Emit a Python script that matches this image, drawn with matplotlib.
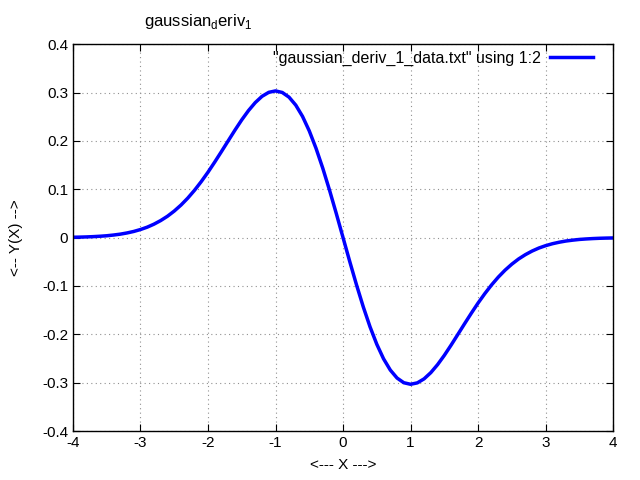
import matplotlib
matplotlib.use("Agg")
import matplotlib.pyplot as plt

plt.rcParams["font.family"] = ["Liberation Sans", "DejaVu Sans"]
plt.rcParams["mathtext.fontset"] = "custom"
plt.rcParams["mathtext.rm"] = "Liberation Sans"

# 그림에서 읽은 값 (0.1 간격)
x_vals = [-4.0, -3.9, -3.8, -3.7, -3.6, -3.5, -3.4, -3.3, -3.2, -3.1,
          -3.0, -2.9, -2.8, -2.7, -2.6, -2.5, -2.4, -2.3, -2.2, -2.1,
          -2.0, -1.9, -1.8, -1.7, -1.6, -1.5, -1.4, -1.3, -1.2, -1.1,
          -1.0, -0.9, -0.8, -0.7, -0.6, -0.5, -0.4, -0.3, -0.2, -0.1,
          0.0, 0.1, 0.2, 0.3, 0.4, 0.5, 0.6, 0.7, 0.8, 0.9,
          1.0, 1.1, 1.2, 1.3, 1.4, 1.5, 1.6, 1.7, 1.8, 1.9,
          2.0, 2.1, 2.2, 2.3, 2.4, 2.5, 2.6, 2.7, 2.8, 2.9,
          3.0, 3.1, 3.2, 3.3, 3.4, 3.5, 3.6, 3.7, 3.8, 3.9, 4.0]
y_vals = [0.0007, 0.0010, 0.0014, 0.0020, 0.0028, 0.0038, 0.0053, 0.0071, 0.0096, 0.0127,
          0.0167, 0.0216, 0.0278, 0.0353, 0.0442, 0.0549, 0.0673, 0.0816, 0.0978, 0.1158,
          0.1353, 0.1563, 0.1781, 0.2003, 0.2224, 0.2435, 0.2627, 0.2792, 0.2921, 0.3004,
          0.3033, 0.3001, 0.2904, 0.2739, 0.2506, 0.2206, 0.1846, 0.1434, 0.0980, 0.0498,
          0.0, -0.0498, -0.0980, -0.1434, -0.1846, -0.2206, -0.2506, -0.2739, -0.2904, -0.3001,
          -0.3033, -0.3004, -0.2921, -0.2792, -0.2627, -0.2435, -0.2224, -0.2003, -0.1781, -0.1563,
          -0.1353, -0.1158, -0.0978, -0.0816, -0.0673, -0.0549, -0.0442, -0.0353, -0.0278, -0.0216,
          -0.0167, -0.0127, -0.0096, -0.0071, -0.0053, -0.0038, -0.0028, -0.0020, -0.0014, -0.0010,
          -0.0007]
x_ticks = [-4, -3, -2, -1, 0, 1, 2, 3, 4]
y_ticks = [-0.4, -0.3, -0.2, -0.1, 0, 0.1, 0.2, 0.3, 0.4]
y_labels = ["-0.4", "-0.3", "-0.2", "-0.1", "0", "0.1", "0.2", "0.3", "0.4"]

fig = plt.figure(figsize=(6.4, 4.8), dpi=100)
ax = fig.add_axes([0.114, 0.102, 0.844, 0.806])

ax.plot(x_vals, y_vals, color="#0000ff", lw=2.5,
        label='"gaussian_deriv_1_data.txt" using 1:2')
ax.set_xlim(-4, 4)
ax.set_ylim(-0.4, 0.4)
ax.set_xticks(x_ticks)
ax.set_xticklabels([str(t) for t in x_ticks])
ax.set_yticks(y_ticks)
ax.set_yticklabels(y_labels)
ax.tick_params(direction="in", top=True, right=True, labelsize=11, length=5)
ax.grid(True, color="#909090", ls=(0, (1, 3)), lw=0.8)
for s in ax.spines.values():
    s.set_linewidth(1.0)

ax.set_xlabel("<--- X --->", fontsize=11, labelpad=6)
ax.set_ylabel("<-- Y(X) -->", fontsize=11, labelpad=14)

leg = ax.legend(loc="upper right", frameon=False, fontsize=11.5, markerfirst=False,
                handlelength=2.7, borderaxespad=0.0, handletextpad=0.6,
                bbox_to_anchor=(0.975, 1.0))

fig.text(0.31, 0.955, r"gaussian$_{\mathrm{d}}$eriv$_{\mathrm{1}}$", fontsize=12,
         ha="center", va="center")

fig.savefig("out.png", dpi=100)
